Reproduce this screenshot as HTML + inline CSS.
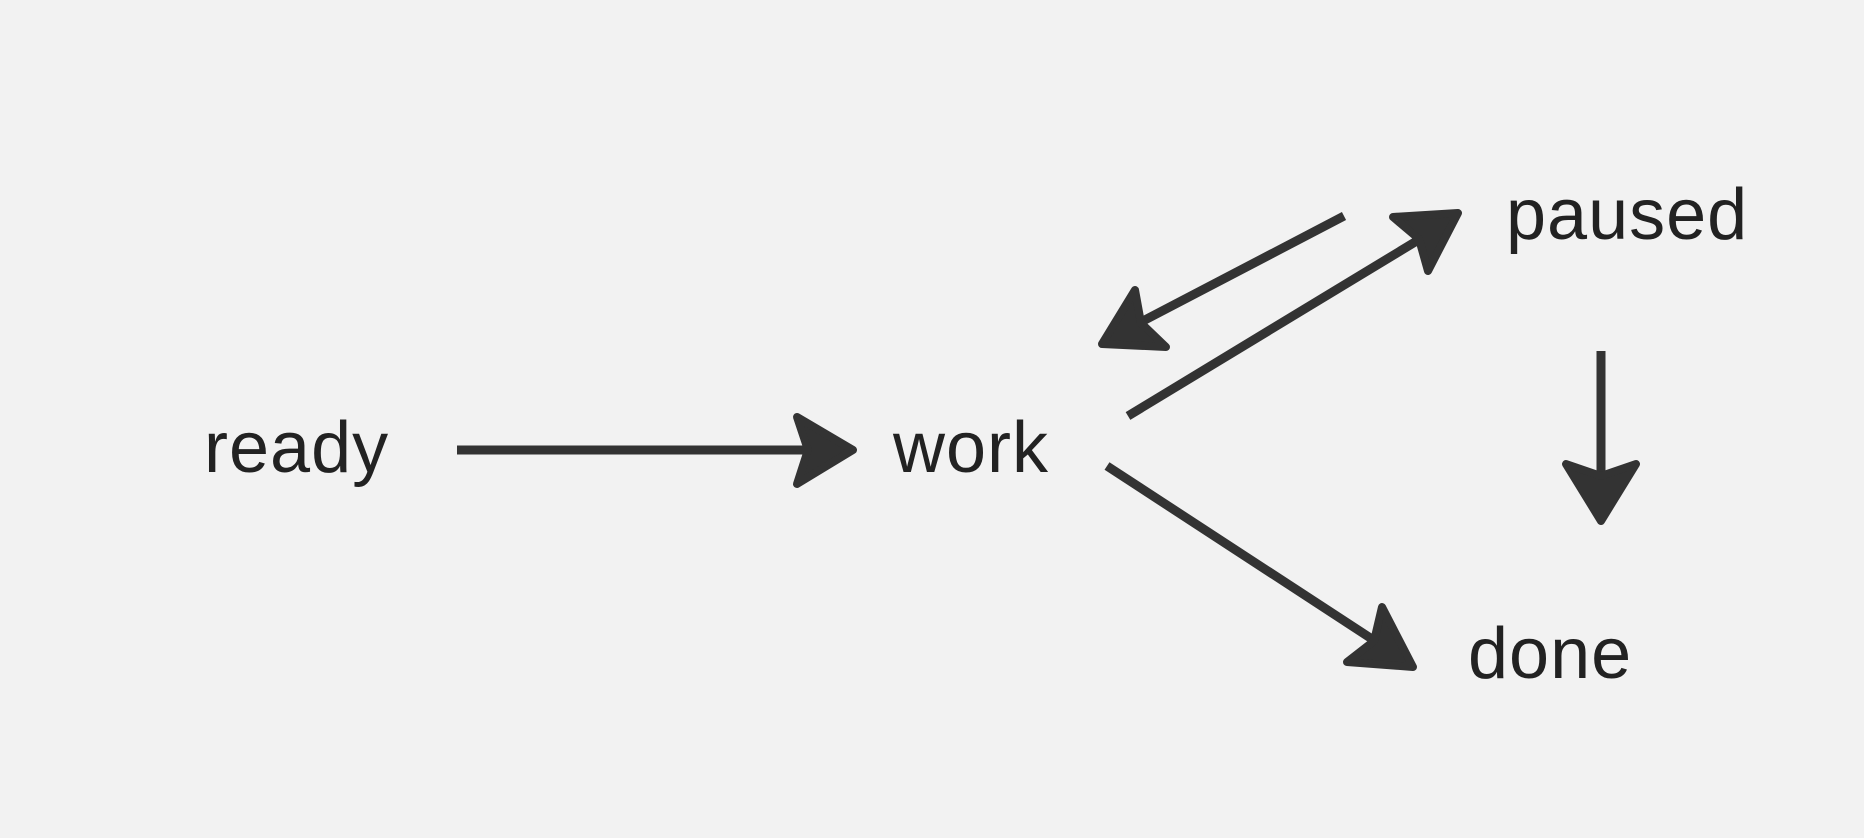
<!DOCTYPE html>
<html><head><meta charset="utf-8"><style>
html,body{margin:0;padding:0;background:#f2f2f2;}
svg{display:block}
text{font-family:"Liberation Sans",sans-serif;font-size:72px;fill:#222;letter-spacing:1px;}
</style></head><body>
<svg width="1864" height="838" viewBox="0 0 1864 838" xmlns="http://www.w3.org/2000/svg">
<rect width="1864" height="838" fill="#f2f2f2"/>
<text x="204" y="472">ready</text>
<text x="893" y="472">work</text>
<text x="1506" y="239">paused</text>
<text x="1468" y="678">done</text>
<g stroke="#333" stroke-width="9" fill="none">
<line x1="457" y1="450" x2="808" y2="450"/>
<line x1="1128" y1="416" x2="1420" y2="239"/>
<line x1="1344" y1="216" x2="1141" y2="322"/>
<line x1="1601" y1="351" x2="1601" y2="475"/>
<line x1="1107" y1="466" x2="1375" y2="641"/>
</g>
<g fill="#333" stroke="#333" stroke-width="8" stroke-linejoin="round">
<polygon points="853,450 797,417 808,450 797,484"/>
<polygon points="1458,213 1393,217 1419,239 1428,271"/>
<polygon points="1102,344 1135,290 1141,323 1166,347"/>
<polygon points="1601,521 1566,464 1601,476 1636,464"/>
<polygon points="1413,667 1382,607 1374,641 1347,662"/>
</g>
</svg>
</body></html>
